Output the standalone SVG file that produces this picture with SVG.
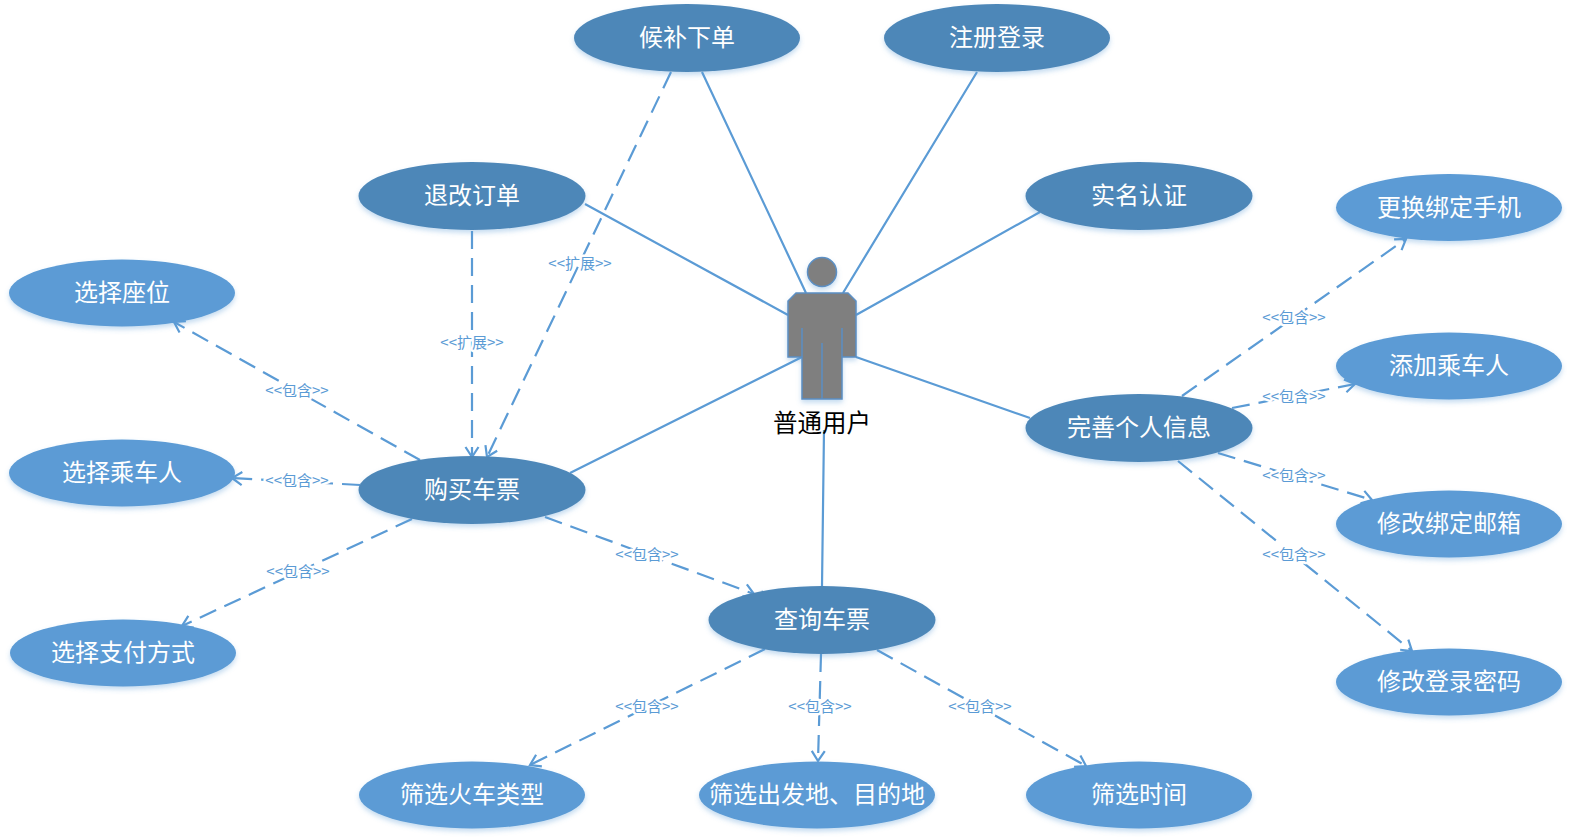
<svg xmlns="http://www.w3.org/2000/svg" width="1572" height="840" viewBox="0 0 1572 840">
<style>
text{font-family:"Noto Sans CJK SC","Liberation Sans",sans-serif;text-anchor:middle}
.d,.l{fill:#4e87b8;filter:url(#s)}
.l{fill:#5b9bd5}
.n{fill:#fff;font-size:24px}
.c{stroke:#5b9bd5;stroke-width:2.2;fill:none}
.k{stroke-dasharray:18 9;marker-end:url(#a)}
.t{fill:#5b9bd5;font-size:15px;stroke:#fff;stroke-width:5px;paint-order:stroke;stroke-linejoin:round}
</style>
<defs>
<filter id="s" x="-10%" y="-20%" width="120%" height="150%"><feDropShadow dx="0" dy="3" stdDeviation="2.5" flood-color="#5b9bd5" flood-opacity=".35"/></filter>
<marker id="a" markerUnits="userSpaceOnUse" markerWidth="20" markerHeight="20" refX="13" refY="9" orient="auto"><path d="M3 2.5L13 9L3 15.5" fill="none" stroke="#5b9bd5" stroke-width="2.2"/></marker>
</defs>
<rect width="1572" height="840" fill="#fff"/>
<g id="connectors">
<path class="c" d="M702 72L806 293M977 72L843 293M585 204L788 315M1040 212L856 315M570 473L802 357M1030 418L856 357M822 586L824 430"/>
<path class="c k" d="M671 72L487 457"/>
<path class="c k" d="M472 231V457"/>
<path class="c k" d="M420 460L174 322"/>
<path class="c k" d="M360 485L232 478"/>
<path class="c k" d="M412 519L182 626"/>
<path class="c k" d="M545 517L754 594"/>
<path class="c k" d="M765 649L530 765"/>
<path class="c k" d="M821 654L818 761"/>
<path class="c k" d="M877 650L1086 766"/>
<path class="c k" d="M1182 396L1406 239"/>
<path class="c k" d="M1232 408L1355 384"/>
<path class="c k" d="M1218 453L1372 500"/>
<path class="c k" d="M1178 461L1412 651"/>
<text class="t" x="580" y="269">&lt;&lt;扩展&gt;&gt;</text>
<text class="t" x="472" y="348">&lt;&lt;扩展&gt;&gt;</text>
<text class="t" x="297" y="396">&lt;&lt;包含&gt;&gt;</text>
<text class="t" x="297" y="486">&lt;&lt;包含&gt;&gt;</text>
<text class="t" x="298" y="577">&lt;&lt;包含&gt;&gt;</text>
<text class="t" x="647" y="560">&lt;&lt;包含&gt;&gt;</text>
<text class="t" x="647" y="712">&lt;&lt;包含&gt;&gt;</text>
<text class="t" x="820" y="712">&lt;&lt;包含&gt;&gt;</text>
<text class="t" x="980" y="712">&lt;&lt;包含&gt;&gt;</text>
<text class="t" x="1294" y="323">&lt;&lt;包含&gt;&gt;</text>
<text class="t" x="1294" y="402">&lt;&lt;包含&gt;&gt;</text>
<text class="t" x="1294" y="481">&lt;&lt;包含&gt;&gt;</text>
<text class="t" x="1294" y="560">&lt;&lt;包含&gt;&gt;</text>
</g>
<g id="actor">
<g filter="url(#s)" fill="#7f7f7f" stroke="#5b8fc4" stroke-width="1.5">
<circle cx="822" cy="272" r="14.5"/>
<path d="M796 293H848L856 301V357H842V399H802V357H788V301Z"/>
</g>
<path d="M802 328V357M842 328V357M822 343V399" stroke="#5b8fc4" stroke-width="1.5" fill="none"/>
<text x="822" y="432" font-size="24.5" fill="#000">普通用户</text>
</g>
<g id="n1"><ellipse class="d" cx="687" cy="38" rx="113" ry="34"/><text class="n" x="687" y="46">候补下单</text></g>
<g id="n2"><ellipse class="d" cx="997" cy="38" rx="113" ry="34"/><text class="n" x="997" y="46">注册登录</text></g>
<g id="n3"><ellipse class="d" cx="472" cy="196" rx="113.500" ry="34"/><text class="n" x="472" y="204">退改订单</text></g>
<g id="n4"><ellipse class="d" cx="1139" cy="196" rx="113.500" ry="34"/><text class="n" x="1139" y="204">实名认证</text></g>
<g id="n5"><ellipse class="d" cx="472" cy="490" rx="113.500" ry="34"/><text class="n" x="472" y="498">购买车票</text></g>
<g id="n6"><ellipse class="d" cx="822" cy="620" rx="113.500" ry="34"/><text class="n" x="822" y="628">查询车票</text></g>
<g id="n7"><ellipse class="d" cx="1139" cy="428" rx="113.500" ry="34"/><text class="n" x="1139" y="436">完善个人信息</text></g>
<g id="n8"><ellipse class="l" cx="122" cy="293" rx="113" ry="33.500"/><text class="n" x="122" y="301">选择座位</text></g>
<g id="n9"><ellipse class="l" cx="122" cy="473" rx="113" ry="33.500"/><text class="n" x="122" y="481">选择乘车人</text></g>
<g id="n10"><ellipse class="l" cx="123" cy="653" rx="113" ry="33.500"/><text class="n" x="123" y="661">选择支付方式</text></g>
<g id="n11"><ellipse class="l" cx="1449" cy="207.500" rx="113" ry="33.500"/><text class="n" x="1449" y="215.500">更换绑定手机</text></g>
<g id="n12"><ellipse class="l" cx="1449" cy="366" rx="113" ry="33.500"/><text class="n" x="1449" y="374">添加乘车人</text></g>
<g id="n13"><ellipse class="l" cx="1449" cy="524" rx="113" ry="33.500"/><text class="n" x="1449" y="532">修改绑定邮箱</text></g>
<g id="n14"><ellipse class="l" cx="1449" cy="682" rx="113" ry="33.500"/><text class="n" x="1449" y="690">修改登录密码</text></g>
<g id="n15"><ellipse class="l" cx="472" cy="795" rx="113" ry="33.500"/><text class="n" x="472" y="803">筛选火车类型</text></g>
<g id="n16"><ellipse class="l" cx="817" cy="795" rx="118" ry="33.500"/><text class="n" x="817" y="803">筛选出发地、目的地</text></g>
<g id="n17"><ellipse class="l" cx="1139" cy="795" rx="113" ry="33.500"/><text class="n" x="1139" y="803">筛选时间</text></g>
</svg>
